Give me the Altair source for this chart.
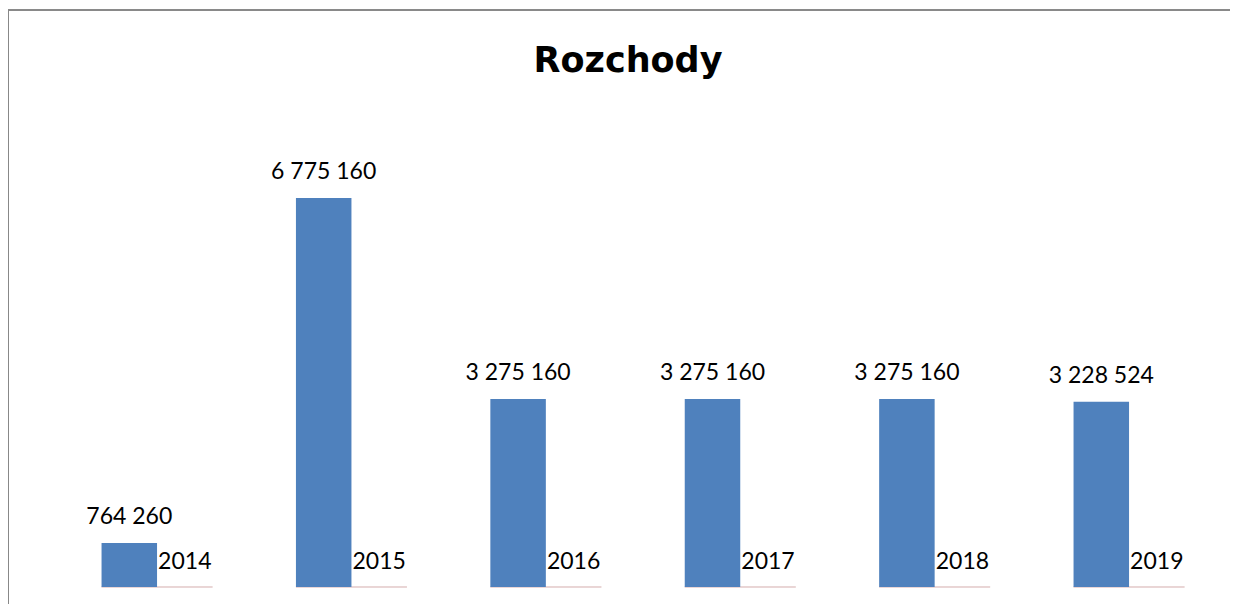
import altair as alt
import pandas as pd

years = ["2014", "2015", "2016", "2017", "2018", "2019"]
values = [764260, 6775160, 3275160, 3275160, 3275160, 3228524]
value_labels = ["764 260", "6 775 160", "3 275 160", "3 275 160", "3 275 160", "3 228 524"]

df = pd.DataFrame({"year": years, "value": values, "label": value_labels})

FONT = "Lato"
W, H = 1222, 594
xscale = alt.Scale(domain=years, paddingInner=0.429, paddingOuter=0.3575, align=0.673)
yscale = alt.Scale(domain=[-296100, 10049500], nice=False, zero=False)
offscale = alt.Scale(domain=["bar", "gap"], paddingInner=0, paddingOuter=0)

base = alt.Chart(df).transform_calculate(bar="'bar'", gap="'gap'")

baseline = base.mark_rect(color="#e2c8c8", stroke="#e2c8c8", strokeWidth=1).encode(
    x=alt.X("year:N", scale=xscale, axis=None),
    y=alt.Y(datum=0, scale=yscale, axis=None),
    y2=alt.datum(0),
)

bars = base.mark_bar(color="#4F81BD").encode(
    x=alt.X("year:N", scale=xscale, axis=None),
    xOffset=alt.XOffset("bar:N", scale=offscale),
    y=alt.Y("value:Q", scale=yscale, axis=None),
    y2=alt.datum(0),
)

value_text = base.mark_text(font=FONT, fontSize=23, baseline="alphabetic", dy=-19, color="black").encode(
    x=alt.X("year:N", scale=xscale, axis=None),
    xOffset=alt.XOffset("bar:N", scale=offscale),
    y=alt.Y("value:Q", scale=yscale, axis=None),
    text="label:N",
)

year_text = base.mark_text(font=FONT, fontSize=23, baseline="alphabetic", dy=-18, color="black").encode(
    x=alt.X("year:N", scale=xscale, axis=None),
    xOffset=alt.XOffset("gap:N", scale=offscale),
    y=alt.Y(datum=0, scale=yscale, axis=None),
    text="year:N",
)

frame_left = alt.Chart(df).mark_rule(color="#888888", strokeWidth=2).encode(
    x=alt.value(0), y=alt.value(0), y2=alt.value(H)
)
frame_top = alt.Chart(df).mark_rule(color="#888888", strokeWidth=1).encode(
    x=alt.value(0), x2=alt.value(W), y=alt.value(0)
)

chart = alt.layer(baseline, bars, value_text, year_text, frame_left, frame_top).properties(
    width=W,
    height=H,
    autosize=alt.AutoSizeParams(type="none"),
    padding={"left": 0, "top": 2, "right": 0, "bottom": 0},
    title=alt.Title("Rozchody", font="DejaVu Sans", fontSize=35, fontWeight="bold", color="black",
                    anchor="middle", baseline="alphabetic", offset=-98, dx=9),
).configure_view(stroke=None)

chart.save("out.html", embed_options={"renderer": "svg", "actions": False})
